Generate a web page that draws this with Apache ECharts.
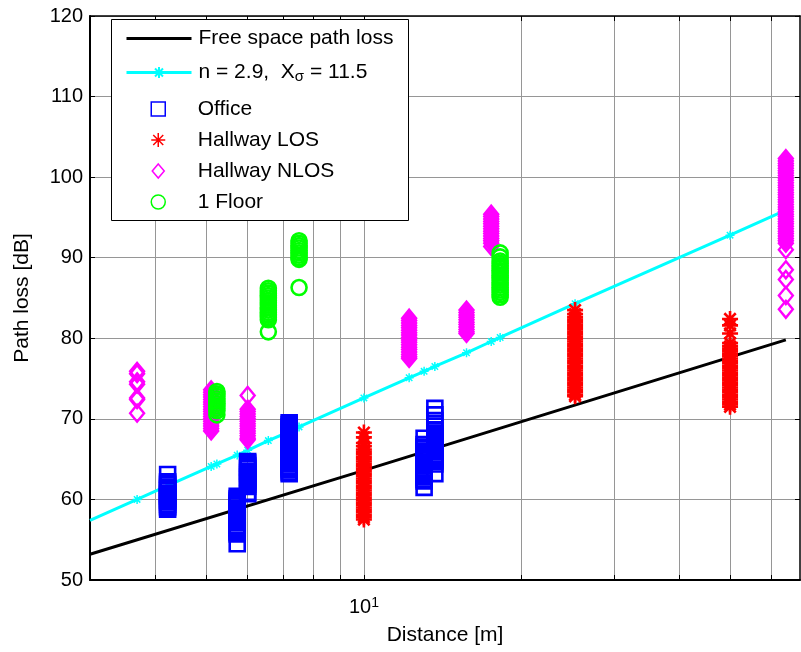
<!DOCTYPE html>
<html>
<head>
<meta charset="utf-8">
<script src="https://cdn.jsdelivr.net/npm/echarts@6/dist/echarts.min.js"></script>
<style>
html,body{margin:0;padding:0;background:#fff;}
#chart{width:801px;height:652px;}
</style>
</head>
<body>
<div id="chart"></div>
<script>
// ---- Data ----
const xMin = 3, xMax = 68;
const yMin = 50, yMax = 120, yStep = 10;
const xGridTicks = [4, 5, 6, 7, 8, 9, 10, 20, 30, 40, 50, 60];
const xLabelTicks = [10];

const freeSpaceDist = [3, 10, 63.9];
const freeSpaceLoss = [53.2, 63.6, 79.8];

const modelDist = [3, 3.69, 4.22, 5.11, 5.24, 5.73, 6.0, 6.57, 7.2, 7.52, 10, 12.2, 13.03, 13.66, 15.7, 17.5, 18.2, 25.3, 50, 63.9];
const modelLoss = [57.4, 60.0, 61.7, 64.1, 64.4, 65.5, 66.1, 67.3, 68.4, 69.0, 72.6, 75.1, 75.9, 76.5, 78.2, 79.6, 80.1, 84.3, 92.8, 95.9];

const officeDist = [4.22, 5.73, 6.0, 7.2, 13.03, 13.66];
const officeLoss = [
  [63.1, 62.2, 62.0, 61.8, 61.5, 61.3, 61.1, 60.8, 60.6, 60.4, 60.1, 59.9, 59.7, 59.4, 59.2, 59.0, 58.8],
  [60.4, 60.1, 59.9, 59.6, 59.4, 59.2, 58.9, 58.7, 58.5, 58.2, 58.0, 57.8, 57.5, 57.3, 57.1, 56.8, 56.6, 56.4, 56.1, 55.9, 55.7, 54.5],
  [64.7, 64.5, 64.2, 64.0, 63.8, 63.5, 63.3, 63.1, 62.8, 62.6, 62.4, 62.1, 61.9, 61.6, 60.9, 60.7],
  [69.5, 69.3, 69.0, 68.8, 68.6, 68.3, 68.1, 67.9, 67.6, 67.4, 67.2, 66.9, 66.7, 66.5, 66.2, 66.0, 65.8, 65.5, 65.3, 65.1, 64.8, 64.6, 64.4, 64.1, 63.9, 63.7, 63.4, 63.2],
  [67.6, 66.8, 66.5, 66.3, 66.0, 65.8, 65.6, 65.3, 65.1, 64.9, 64.6, 64.4, 64.2, 63.9, 63.7, 63.5, 63.2, 63.0, 62.8, 62.5, 62.3, 61.5],
  [71.3, 70.5, 69.8, 69.1, 68.5, 68.2, 68.0, 67.7, 67.5, 67.3, 67.0, 66.8, 66.6, 66.3, 66.1, 65.9, 65.6, 65.4, 65.2, 64.9, 64.7, 64.4, 63.2]
];

const losDist = [10, 25.3, 50];
const losLoss = [
  [68.3, 67.7, 67.0, 66.6, 66.2, 65.9, 65.6, 65.3, 65.0, 64.7, 64.4, 64.1, 63.8, 63.5, 63.2, 62.9, 62.6, 62.3, 62.0, 61.7, 61.4, 61.1, 60.8, 60.5, 60.2, 59.9, 59.6, 59.3, 59.0, 58.7, 58.4, 58.1, 57.8, 57.5],
  [83.5, 83.0, 82.6, 82.3, 82.0, 81.7, 81.4, 81.1, 80.8, 80.5, 80.2, 79.9, 79.6, 79.3, 79.0, 78.7, 78.4, 78.1, 77.8, 77.5, 77.2, 76.9, 76.6, 76.3, 76.0, 75.7, 75.4, 75.1, 74.8, 74.5, 74.2, 73.9, 73.6, 73.3, 73.0, 72.8],
  [82.4, 81.6, 80.6, 79.4, 79.0, 78.7, 78.4, 78.1, 77.8, 77.5, 77.2, 76.9, 76.6, 76.3, 76.0, 75.7, 75.4, 75.1, 74.8, 74.5, 74.2, 73.9, 73.6, 73.3, 73.0, 72.7, 72.4, 72.1, 71.8, 71.5]
];

const nlosDist = [3.69, 5.11, 6.0, 12.2, 15.7, 17.5, 63.9];
const nlosLoss = [
  [75.9, 75.6, 74.6, 74.3, 72.6, 72.4, 70.7],
  [73.6, 73.3, 73.0, 72.7, 72.4, 72.1, 71.8, 71.5, 71.2, 70.9, 70.6, 70.3, 70.0, 69.7, 69.4, 69.1, 68.8, 68.5],
  [72.9, 71.2, 70.9, 70.6, 70.3, 70.0, 69.7, 69.4, 69.1, 68.8, 68.5, 68.2, 67.9, 67.6, 67.4],
  [82.5, 82.2, 81.9, 81.6, 81.3, 81.0, 80.7, 80.4, 80.1, 79.8, 79.5, 79.2, 78.9, 78.6, 78.3, 78.0, 77.7, 77.5],
  [83.5, 83.2, 82.9, 82.6, 82.3, 82.0, 81.7, 81.4, 81.1, 80.8, 80.6],
  [95.4, 95.1, 94.8, 94.5, 94.2, 93.9, 93.6, 93.3, 93.0, 92.7, 92.4, 92.1, 91.8, 91.4],
  [102.3, 102.0, 101.7, 101.4, 101.1, 100.8, 100.5, 100.2, 99.9, 99.6, 99.3, 99.0, 98.7, 98.4, 98.1, 97.8, 97.5, 97.2, 96.9, 96.6, 96.3, 96.0, 95.7, 95.4, 95.1, 94.8, 94.5, 94.2, 93.9, 93.6, 93.3, 93.0, 92.7, 92.4, 92.1, 91.8, 91.0, 88.5, 87.3, 85.3, 83.6]
];

const floorDist = [5.24, 6.57, 7.52, 18.2];
const floorLoss = [
  [73.4, 73.1, 72.8, 72.5, 72.2, 71.9, 71.6, 71.3, 71.0, 70.5],
  [86.2, 85.9, 85.6, 85.3, 85.0, 84.7, 84.4, 84.1, 83.8, 83.5, 83.2, 82.9, 82.6, 82.3, 80.8],
  [92.1, 91.8, 91.5, 91.2, 90.9, 90.6, 90.3, 90.0, 89.8, 86.3],
  [90.6, 90.1, 89.6, 89.3, 89.0, 88.7, 88.4, 88.1, 87.8, 87.5, 87.2, 86.9, 86.6, 86.3, 86.0, 85.7, 85.4, 85.1]
];

const seriesNames = ['Free space path loss', 'n = 2.9,  Xσ = 11.5', 'Office', 'Hallway LOS', 'Hallway NLOS', '1 Floor'];

// ---- Build ----
function pairs(xs, ys) { return xs.map((x, i) => [x, ys[i]]); }
function clusters(xs, groups) {
  const out = [];
  xs.forEach((x, i) => groups[i].forEach(v => out.push([x, v])));
  return out;
}
const FONT = 'Liberation Sans, Arial, Helvetica, sans-serif';
const SQUARE = 'path://M0,0L16,0L16,16L0,16Z';
const DIAMOND = 'path://M7,0L14,8.5L7,17L0,8.5Z';
const STAR = 'path://M8,0L8,16M0,8L16,8M2.3,2.3L13.7,13.7M13.7,2.3L2.3,13.7';
const CIRCLE = 'path://M0,8A8,8,0,1,1,16,8A8,8,0,1,1,0,8Z';
// legend icons: symbol centred in a 65x14 frame
const L_SQUARE = 'path://M0,7L0,7M25.5,0L39.5,0L39.5,14L25.5,14ZM65,7L65,7';
const L_STAR = 'path://M0,7L0,7M32.5,0L32.5,14M25.5,7L39.5,7M27.5,2L37.5,12M37.5,2L27.5,12M65,7L65,7';
const L_DIAMOND = 'path://M0,7L0,7M32.5,0L38.5,7L32.5,14L26.5,7ZM65,7L65,7';
const L_CIRCLE = 'path://M0,7L0,7M25.5,7A7,7,0,1,1,39.5,7A7,7,0,1,1,25.5,7ZM65,7L65,7';

const modelData = pairs(modelDist, modelLoss).map((p, i) => i === 0 ? { value: p, symbol: 'none' } : p);

const chart = echarts.init(document.getElementById('chart'), null, { renderer: 'canvas' });
const gridColor = '#969696';
const option = {
  animation: false,
  backgroundColor: '#fff',
  textStyle: { fontFamily: FONT },
  grid: { left: 90, top: 16, width: 710, height: 564, show: false },
  xAxis: [
    {
      type: 'log', logBase: 10, min: xMin, max: xMax, position: 'bottom',
      name: 'Distance [m]', nameLocation: 'middle', nameGap: 45,
      nameTextStyle: { fontSize: 21, color: '#000', fontFamily: FONT },
      axisLine: { show: true, onZero: false, lineStyle: { color: '#000', width: 2 } },
      axisTick: { show: true, inside: true, length: 5, customValues: xGridTicks, lineStyle: { color: '#000', width: 1 } },
      minorTick: { show: false },
      axisLabel: {
        show: true, customValues: xLabelTicks, margin: 16, color: '#000',
        formatter: function (v) { return '{b|10}{s|1}'; },
        rich: {
          b: { fontSize: 20, lineHeight: 22, fontFamily: FONT, color: '#000' },
          s: { fontSize: 14, lineHeight: 10, verticalAlign: 'top', fontFamily: FONT, color: '#000' }
        }
      },
      splitLine: { show: true, lineStyle: { color: gridColor, width: 1 } }
    },
    {
      type: 'log', logBase: 10, min: xMin, max: xMax, position: 'top',
      axisLine: { show: true, onZero: false, lineStyle: { color: '#000', width: 1.5 } },
      axisTick: { show: true, inside: true, length: 5, customValues: xGridTicks, lineStyle: { color: '#000', width: 1 } },
      axisLabel: { show: false },
      splitLine: { show: false }
    }
  ],
  yAxis: [
    {
      type: 'value', min: yMin, max: yMax, interval: yStep, position: 'left',
      name: 'Path loss [dB]', nameLocation: 'middle', nameGap: 57, nameRotate: 90,
      nameTextStyle: { fontSize: 21, color: '#000', fontFamily: FONT },
      axisLine: { show: true, onZero: false, lineStyle: { color: '#000', width: 2 } },
      axisTick: { show: true, inside: true, length: 5, lineStyle: { color: '#000', width: 1 } },
      axisLabel: { color: '#000', fontSize: 20, margin: 7, fontFamily: FONT },
      splitLine: { show: true, lineStyle: { color: gridColor, width: 1 } }
    },
    {
      type: 'value', min: yMin, max: yMax, interval: yStep, position: 'right',
      axisLine: { show: true, onZero: false, lineStyle: { color: '#000', width: 1.5 } },
      axisTick: { show: true, inside: true, length: 5, lineStyle: { color: '#000', width: 1 } },
      axisLabel: { show: false },
      splitLine: { show: false }
    }
  ],
  graphic: [{
    type: 'rect', z: 3, zlevel: 0,
    shape: { x: 111.5, y: 19.5, width: 297, height: 201 },
    style: { fill: '#fff', stroke: '#000', lineWidth: 1 }
  }],
  legend: [
    {
      z: 6, orient: 'vertical', left: 125, top: 28, padding: 0,
      itemWidth: 65, itemHeight: 14, itemGap: 13,
      lineStyle: { width: 3 },
      data: [
        { name: seriesNames[0], itemStyle: { opacity: 0 }, lineStyle: { width: 3, color: '#000' } },
        { name: seriesNames[1], lineStyle: { width: 3, color: '#00ffff' } }
      ],
      formatter: function (name) {
        if (name === seriesNames[1]) return '{a|n = 2.9,  X}{sub|σ}{a| = 11.5}';
        return '{a|' + name + '}';
      },
      textStyle: {
        color: '#000', fontSize: 21, fontFamily: FONT, padding: [0, 0, 0, 2],
        rich: {
          a: { fontSize: 21, lineHeight: 24, fontFamily: FONT, color: '#000' },
          sub: { fontSize: 15, lineHeight: 10, verticalAlign: 'bottom', fontFamily: FONT, color: '#000' }
        }
      }
    },
    {
      z: 6, orient: 'vertical', left: 125, top: 97, padding: 0,
      itemWidth: 65, itemHeight: 14, itemGap: 7,
      data: [
        { name: seriesNames[2], icon: L_SQUARE },
        { name: seriesNames[3], icon: L_STAR },
        { name: seriesNames[4], icon: L_DIAMOND },
        { name: seriesNames[5], icon: L_CIRCLE }
      ],
      itemStyle: { borderWidth: 1.5 },
      textStyle: { color: '#000', fontSize: 21, lineHeight: 24, fontFamily: FONT, padding: [0, 0, 0, 2] }
    }
  ],
  series: [
    {
      name: seriesNames[0], type: 'line', z: 1, xAxisIndex: 0, yAxisIndex: 0,
      data: pairs(freeSpaceDist, freeSpaceLoss), symbol: 'none',
      lineStyle: { color: '#000', width: 3 }, itemStyle: { color: '#000' }
    },
    {
      name: seriesNames[1], type: 'line', z: 1, xAxisIndex: 0, yAxisIndex: 0,
      data: modelData, symbol: STAR, symbolSize: 9, showAllSymbol: true,
      lineStyle: { color: '#00ffff', width: 3 },
      itemStyle: { color: 'rgba(0,0,0,0)', borderColor: '#00ffff', borderWidth: 1.5 }
    },
    {
      name: seriesNames[2], type: 'scatter', z: 2,
      data: clusters(officeDist, officeLoss), symbol: SQUARE, symbolSize: 15,
      itemStyle: { color: 'rgba(0,0,0,0)', borderColor: '#0000ff', borderWidth: 2.6, opacity: 1 }
    },
    {
      name: seriesNames[3], type: 'scatter', z: 2,
      data: clusters(losDist, losLoss), symbol: STAR, symbolSize: 16,
      itemStyle: { color: 'rgba(0,0,0,0)', borderColor: '#ff0000', borderWidth: 2.6, opacity: 1 }
    },
    {
      name: seriesNames[4], type: 'scatter', z: 2,
      data: clusters(nlosDist, nlosLoss), symbol: DIAMOND, symbolSize: [14, 17],
      itemStyle: { color: 'rgba(0,0,0,0)', borderColor: '#ff00ff', borderWidth: 2.4, opacity: 1 }
    },
    {
      name: seriesNames[5], type: 'scatter', z: 2,
      data: clusters(floorDist, floorLoss), symbol: CIRCLE, symbolSize: 15,
      itemStyle: { color: 'rgba(0,0,0,0)', borderColor: '#00ff00', borderWidth: 2.6, opacity: 1 }
    }
  ]
};
chart.setOption(option);
</script>
</body>
</html>
